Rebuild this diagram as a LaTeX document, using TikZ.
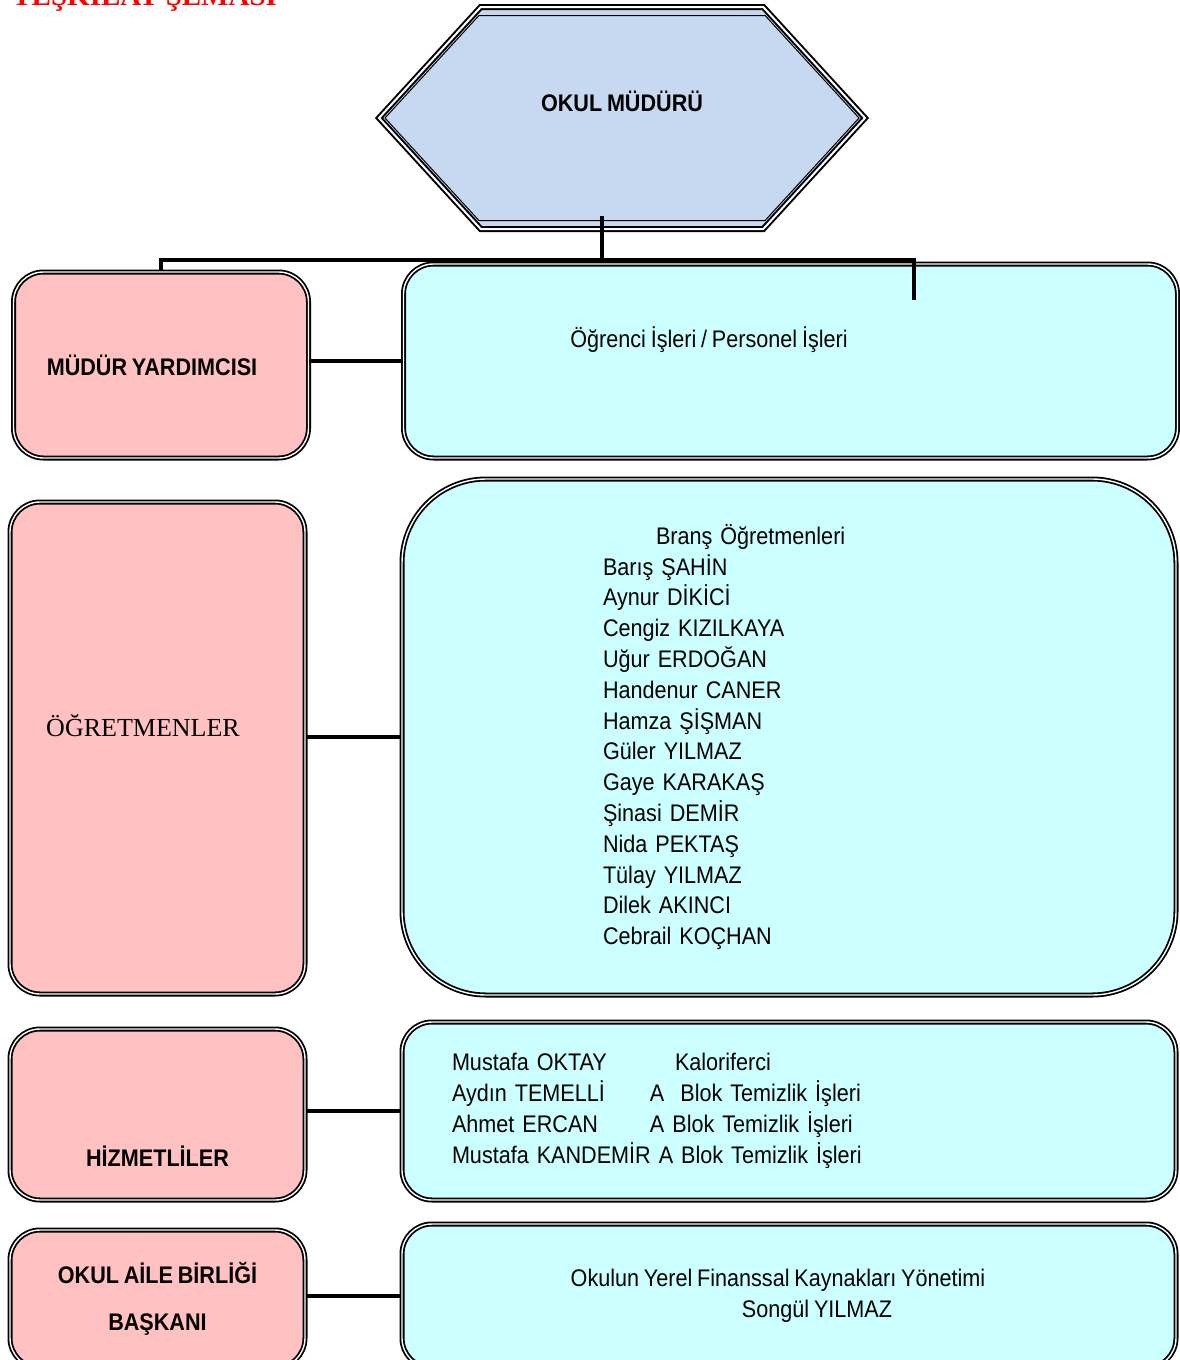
\documentclass[tikz,border=0pt]{standalone}
\usepackage{fontspec}
\setmainfont{Liberation Sans}[FakeStretch=0.9, WordSpace=0.8]
\newfontfamily\timesfont{Liberation Serif}
\usetikzlibrary{positioning}
\usetikzlibrary{calc}
\usetikzlibrary{shapes.symbols}
\definecolor{headcolor}{RGB}{198, 217, 241}
\definecolor{rolecolor}{RGB}{255, 193, 193}
\definecolor{dutycolor}{RGB}{204, 255, 255}
\tikzstyle{headbox} = [
	signal,
	signal to=west and east,
	signal pointer angle=95,
	draw=black,
	line width=1pt,
	double=white,
	double distance=1pt,
	fill=headcolor,
	minimum width=243pt,
	minimum height=111pt,
	inner sep=0pt,
	font=\fontsize{12}{15.4}\selectfont\bfseries
]
\tikzstyle{headinner} = [
	signal,
	signal to=west and east,
	signal pointer angle=95,
	draw=black,
	line width=0.5pt,
	minimum width=237pt,
	minimum height=102.5pt,
	inner sep=0pt
]
\tikzstyle{rolebox} = [
	draw=black,
	line width=0.9pt,
	double=white,
	double distance=0.7pt,
	fill=rolecolor,
	rounded corners=15pt,
	minimum width=147.5pt,
	inner sep=0pt,
	font=\fontsize{12}{15.4}\selectfont\bfseries
]
\tikzstyle{dutybox} = [
	draw=black,
	line width=0.9pt,
	double=white,
	double distance=0.7pt,
	fill=dutycolor,
	rounded corners=15pt,
	minimum width=387pt,
	inner sep=0pt,
	font=\fontsize{12}{15.4}\selectfont
]
\tikzstyle{link} = [
	draw=black,
	line width=1.6pt
]

\begin{document}
\begin{tikzpicture}[x=0.5pt, y=-0.5pt]
	\useasboundingbox (0,0) rectangle (1179,1360);
	
	%
	% Title
	\node[anchor=base west, text=red, inner sep=0pt, font=\timesfont\bfseries\fontsize{14.5}{16}\selectfont] (title) at (12,5) {TEŞKİLAT ŞEMASI};
	
	%
	% Head
	\node[headbox] (mudur) at (622,118) {\raisebox{17pt}{OKUL MÜDÜRÜ}};
	\node[headinner] (mudur_in) at (mudur.center) {};
	
	%
	% Roles (left column)
	\node[rolebox, minimum height=93pt] (yard) at (161,365) {\raisebox{-5pt}{MÜDÜR YARDIMCISI}\hspace*{9pt}};
	\node[rolebox, minimum height=246pt] (ogret) at (157.5,748) {\raisebox{23pt}{\timesfont\mdseries\fontsize{13}{15}\selectfont ÖĞRETMENLER}\hspace*{14.5pt}};
	\node[rolebox, minimum height=85.5pt] (hizmet) at (157.5,1114.5) {\raisebox{-51.5pt}{HİZMETLİLER}};
	\node[rolebox, minimum height=69pt, align=center] (aile) at (157.5,1299) {OKUL AİLE BİRLİĞİ\\[8.1pt]BAŞKANI};
	
	%
	% Duties (right column)
	\node[dutybox, minimum height=97pt] (ogrenci) at (790.5,361) {\raisebox{24pt}{Öğrenci İşleri / Personel İşleri}\hspace*{81.5pt}};
	\node[dutybox, rounded corners=42pt, minimum height=258pt, text width=186pt, inner xsep=100.5pt, align=left] (brans) at (789,737) {\hspace*{26.5pt}Branş Öğretmenleri\\
		Barış ŞAHİN\\
		Aynur DİKİCİ\\
		Cengiz KIZILKAYA\\
		Uğur ERDOĞAN\\
		Handenur CANER\\
		Hamza ŞİŞMAN\\
		Güler YILMAZ\\
		Gaye KARAKAŞ\\
		Şinasi DEMİR\\
		Nida PEKTAŞ\\
		Tülay YILMAZ\\
		Dilek AKINCI\\
		Cebrail KOÇHAN};
	\node[dutybox, minimum height=89pt, text width=337pt, inner xsep=25pt, align=left] (hizmetli_is) at (789,1111) {\makebox[111.5pt][l]{Mustafa OKTAY}Kaloriferci\\
		\makebox[99pt][l]{Aydın TEMELLİ}A\ \ Blok Temizlik İşleri\\
		\makebox[99pt][l]{Ahmet ERCAN}A Blok Temizlik İşleri\\
		Mustafa KANDEMİR\ A Blok Temizlik İşleri};
	\node[dutybox, minimum height=72pt, align=center] (aile_is) at (789,1296) {Okulun Yerel Finanssal Kaynakları Yönetimi\hspace*{11pt}\\
		\hspace*{28pt}Songül YILMAZ};
	
	%
	% Connectors
	\coordinate (bar) at (602,260);
	\coordinate (stub) at (914,300);
	\draw[link] ($(mudur.south)+(-20,-14)$) -- (bar);
	\draw[link] (yard.north) |- (stub |- bar) -- (stub);
	
	\draw[link] (ogrenci.west -| yard.east) -- (ogrenci.west);
	\draw[link] (brans.west -| ogret.east) -- (brans.west);
	\draw[link] (hizmetli_is.west -| hizmet.east) -- (hizmetli_is.west);
	\draw[link] (aile_is.west -| aile.east) -- (aile_is.west);
	
\end{tikzpicture}
\end{document}
